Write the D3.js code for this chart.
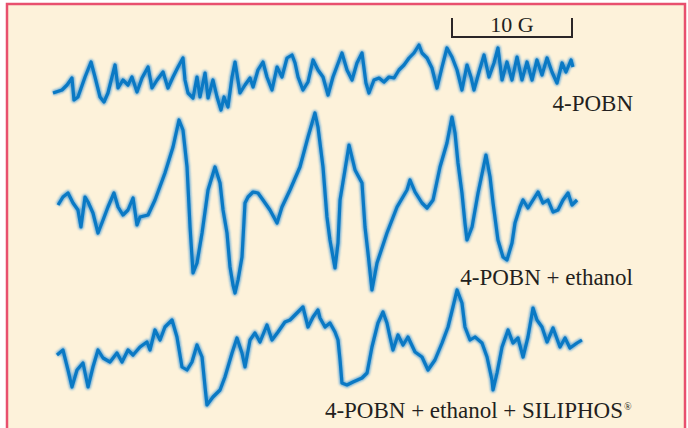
<!DOCTYPE html>
<html>
<head>
<meta charset="utf-8">
<script src="https://cdn.jsdelivr.net/npm/d3@7"></script>
<style>
  body { margin: 0; background: #fff; }
  svg { display: block; }
</style>
</head>
<body>
<div class="chart"></div>
<script>
const W = 688
const H = 428

// field offset (G), signal (a.u.)
const pobn = [
  [0.25, -13], [1.0, -10], [1.42, -5], [1.83, 2], [2.0, -20], [2.33, -17], [2.92, 3], [3.42, 18],
  [3.75, 3], [4.17, -17], [4.5, -22], [4.83, -13], [5.42, 15], [5.67, -8], [6.08, 0], [6.5, -5],
  [6.83, 3], [7.25, -12], [7.67, 2], [8.17, 13], [8.5, -8], [8.92, 0], [9.42, 8], [9.83, -8],
  [10.25, 3], [10.67, 13], [11.08, 22], [11.25, 0], [11.5, -13], [11.92, -18], [12.25, 3], [12.5, -17],
  [12.92, 7], [13.17, -18], [13.58, 0], [13.92, -17], [14.25, -30], [14.5, -17], [14.83, -27], [15.17, 3],
  [15.42, 18], [15.83, -13], [16.25, -5], [16.67, 2], [16.92, -7], [17.33, 10], [17.75, 18], [18.08, 3],
  [18.5, -10], [18.92, 13], [19.33, 3], [19.75, 22], [20.17, 25], [20.42, 17], [20.67, 3], [21.08, -10],
  [21.5, -2], [21.92, 20], [22.33, 10], [22.75, 3], [23.17, -15], [23.58, 3], [24.33, 27], [24.75, 10],
  [25.17, 0], [25.58, 17], [26.0, 27], [26.33, -3], [26.58, -13], [27.0, 0], [27.42, 2], [27.83, -2],
  [28.25, 3], [28.67, 2], [29.08, 10], [29.5, 15], [29.92, 22], [30.33, 27], [30.75, 35], [31.0, 27],
  [31.42, 22], [31.83, 12], [32.25, -8], [32.67, 13], [33.08, 32], [33.5, 23], [33.92, 10], [34.33, -10],
  [34.75, 15], [35.08, 3], [35.33, -10], [35.75, 8], [36.17, 25], [36.58, 3], [37.0, 17], [37.33, 32],
  [37.67, 0], [38.08, 18], [38.5, 0], [38.92, 23], [39.33, 0], [39.75, 18], [40.17, 0], [40.58, 20],
  [41.0, 5], [41.42, 22], [41.83, 8], [42.25, -3], [42.67, 17], [43.0, 8], [43.42, 20], [43.58, 13]
]

const pobnEthanol = [
  [0.67, 0], [1.08, 8], [1.5, 12], [1.92, 2], [2.33, -5], [2.58, -22], [2.92, 8], [3.17, 3],
  [3.58, -8], [4.0, -28], [4.42, -15], [4.83, -2], [5.33, 12], [5.67, -2], [6.08, -10], [6.5, -5],
  [6.92, 7], [7.25, -20], [7.5, -12], [8.17, -10], [8.75, 5], [9.58, 32], [10.25, 58], [10.75, 85],
  [11.08, 75], [11.42, 38], [11.67, -22], [11.92, -68], [12.25, -58], [12.67, -28], [13.17, 15], [13.75, 38],
  [14.17, 22], [14.42, -5], [14.75, -28], [15.0, -62], [15.25, -80], [15.42, -88], [15.67, -75], [16.0, -52],
  [16.25, 2], [16.5, 8], [16.92, 13], [17.33, 12], [17.75, 5], [18.33, -5], [18.92, -18], [19.33, -2],
  [20.0, 15], [20.83, 38], [21.5, 68], [22.08, 92], [22.33, 78], [22.75, 38], [23.08, -12], [23.33, -35],
  [23.75, -63], [24.0, -38], [24.17, 5], [24.58, 35], [24.92, 60], [25.42, 35], [26.0, 22], [26.25, -22],
  [26.5, -48], [26.83, -85], [27.25, -58], [28.08, -28], [28.92, -2], [29.75, 15], [30.0, 25], [30.42, 13],
  [31.0, 2], [31.42, -3], [31.92, 5], [32.5, 38], [33.08, 62], [33.5, 88], [33.75, 72], [34.0, 42],
  [34.33, 12], [34.58, -18], [34.75, -35], [35.17, -22], [35.67, 12], [36.33, 50], [36.67, 28], [36.92, 2],
  [37.33, -35], [37.75, -52], [38.08, -55], [38.5, -38], [38.75, -18], [39.17, -2], [39.42, 5], [39.83, -3],
  [40.25, 5], [40.67, 13], [41.08, 2], [41.5, 5], [41.92, -7], [42.33, -5], [42.75, 5], [43.17, 12],
  [43.5, 0], [43.92, 5]
]

const pobnEthanolSiliphos = [
  [0.58, -5], [1.08, 0], [1.5, -20], [1.83, -37], [2.25, -20], [2.75, -13], [3.17, -37], [3.58, -17],
  [4.0, 0], [4.42, -8], [5.0, -12], [5.58, -3], [6.0, -12], [6.5, 0], [6.92, -5], [7.5, 3],
  [8.08, 8], [8.33, 0], [8.75, 20], [9.17, 10], [9.58, 23], [10.17, 30], [10.58, 13], [11.0, -17],
  [11.42, -20], [11.83, -12], [12.25, 5], [12.67, -7], [12.92, -37], [13.08, -55], [13.58, -47], [14.17, -40],
  [14.58, -27], [15.17, -3], [15.58, 12], [16.0, -3], [16.25, -17], [16.67, 10], [17.08, 17], [17.5, 8],
  [18.08, 25], [18.5, 10], [19.0, 18], [19.58, 28], [20.0, 30], [20.58, 37], [21.08, 43], [21.5, 23],
  [21.92, 33], [22.33, 40], [22.5, 32], [22.92, 23], [23.33, 27], [23.75, 18], [24.0, 10], [24.17, -10],
  [24.33, -33], [24.75, -35], [25.25, -32], [26.0, -28], [26.42, -23], [26.83, 3], [27.33, 27], [27.75, 38],
  [28.08, 27], [28.33, 13], [28.58, 0], [29.0, 15], [29.42, 5], [29.83, 13], [30.42, -2], [31.0, -7],
  [31.5, -20], [32.08, -10], [32.67, 7], [33.17, 23], [33.58, 43], [33.92, 60], [34.33, 47], [34.58, 23],
  [35.0, 10], [35.42, 13], [36.0, 7], [36.42, -7], [36.83, -30], [36.92, -40], [37.25, -23], [37.67, 3],
  [38.17, 20], [38.58, 7], [39.0, 12], [39.42, -7], [39.83, 13], [40.25, 42], [40.58, 30], [41.0, 23],
  [41.42, 8], [41.92, 22], [42.5, 3], [42.92, 12], [43.33, 2], [43.92, 7], [44.33, 10]
]

const seriesLabels = ['4-POBN', '4-POBN + ethanol', '4-POBN + ethanol + SILIPHOS']
const scaleBarGauss = [33.5, 43.5]
const scaleBarLabel = '10 G'

const series = [
  { data: pobn, base: 80, label: seriesLabels[0], labelY: 111 },
  { data: pobnEthanol, base: 205, label: seriesLabels[1], labelY: 285 },
  { data: pobnEthanolSiliphos, base: 350, label: seriesLabels[2], labelY: 418, reg: true }
]

const svg = d3.select('.chart').append('svg').attr('width', W).attr('height', H)

// soft edge on the traces
const defs = svg.append('defs')
defs.append('filter').attr('id', 'soft')
  .attr('x', '-5%').attr('y', '-5%').attr('width', '110%').attr('height', '110%')
  .append('feGaussianBlur').attr('stdDeviation', 1.1)

// frame
svg.append('rect')
  .attr('x', 7).attr('y', 4).attr('width', 678).attr('height', H + 20)
  .attr('fill', '#fdf2da').attr('stroke', '#e8506e').attr('stroke-width', 2.5)

const xScale = d3.scaleLinear().domain([0, 45]).range([50, 590])
const yScale = d3.scaleLinear().domain([-100, 100]).range([100, -100])

const line = d3.line()
  .x(d => xScale(d[0]))
  .y(d => yScale(d[1]))
  .curve(d3.curveLinear)

const font = '"Palatino Linotype", "Book Antiqua", Palatino, "Liberation Serif", serif'

series.forEach(s => {
  const g = svg.append('g').attr('transform', `translate(0, ${s.base})`)
  g.append('path').datum(s.data).attr('d', line)
    .attr('fill', 'none').attr('stroke', '#3f95d6').attr('stroke-width', 5.5)
    .attr('stroke-linejoin', 'round').attr('stroke-opacity', 0.75).attr('filter', 'url(#soft)')
  g.append('path').datum(s.data).attr('d', line)
    .attr('fill', 'none').attr('stroke', '#0a79c4').attr('stroke-width', 3.2)
    .attr('stroke-linejoin', 'round')

  svg.append('text')
    .attr('x', s.reg ? 623 : 633).attr('y', s.labelY)
    .attr('text-anchor', 'end')
    .style('font-family', font).style('font-size', '23px').style('fill', '#231f20')
    .text(s.label)
  if (s.reg) {
    svg.append('text').attr('x', 624).attr('y', s.labelY - 8)
      .style('font-family', font).style('font-size', '10px').style('fill', '#231f20')
      .text('®')
  }
})

// 10 G scale bar
const bar = svg.append('g').attr('stroke', '#2b2627').attr('stroke-width', 2).attr('fill', 'none')
const bx0 = xScale(scaleBarGauss[0])
const bx1 = xScale(scaleBarGauss[1])
bar.append('path').attr('d', `M${bx0},18V37H${bx1}V18`)
svg.append('text')
  .attr('x', (bx0 + bx1) / 2).attr('y', 32).attr('text-anchor', 'middle')
  .style('font-family', font).style('font-size', '22px').style('fill', '#231f20')
  .text(scaleBarLabel)
</script>
</body>
</html>
